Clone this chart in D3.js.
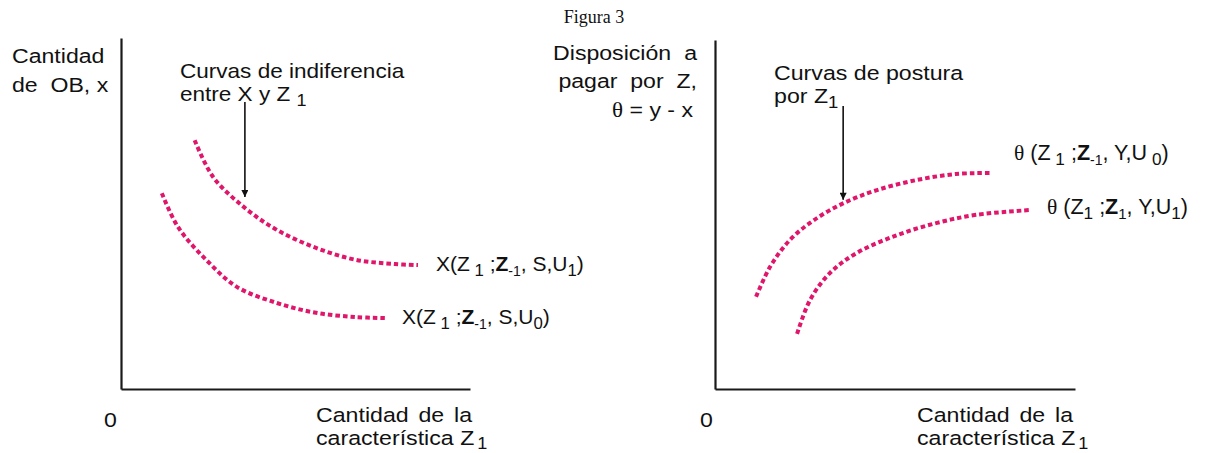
<!DOCTYPE html>
<html>
<head>
<meta charset="utf-8">
<script src="https://cdn.jsdelivr.net/npm/d3@7"></script>
<style>
  html, body { margin: 0; padding: 0; background: #fff; }
  svg text { font-family: "Liberation Sans", Arial, sans-serif; fill: #111; white-space: pre; }
</style>
</head>
<body>
<svg id="chart" width="1221" height="453"></svg>
<script>
// ---------- data (abstract units 0..10 on both axes) ----------
const titleText = "Figura 3";
const leftUpperX = [2.11, 2.64, 3.55, 4.47, 5.59, 6.73, 7.85, 8.51];
const leftUpperY = [7.09, 6.04, 5.16, 4.53, 4.02, 3.68, 3.56, 3.53];
const leftLowerX = [1.17, 1.63, 2.44, 3.32, 4.47, 5.59, 6.73, 7.56];
const leftLowerY = [5.58, 4.62, 3.68, 2.91, 2.45, 2.17, 2.05, 2.02];
const rightUpperX = [1.14, 1.53, 2.08, 2.75, 3.58, 4.50, 5.61, 6.69, 7.64];
const rightUpperY = [2.64, 3.50, 4.27, 4.84, 5.33, 5.70, 5.99, 6.16, 6.19];
const rightLowerX = [2.28, 2.64, 3.19, 3.94, 5.06, 6.17, 7.25, 8.78];
const rightLowerY = [1.58, 2.55, 3.32, 3.90, 4.41, 4.76, 4.99, 5.13];
const leftArrow = { x: 3.55, y0: 8.18, y1: 5.47 };
const rightArrow = { x: 3.56, y0: 8.11, y1: 5.42 };
const domainX = [0, 10];
const domainY = [0, 10];

// ---------- layout ----------
const svg = d3.select("#chart");
const curveColor = "#e0166b";
const FS = 21;
const SX = 1.1;

const panels = [
  { x: d3.scaleLinear().domain(domainX).range([121, 470]),
    y: d3.scaleLinear().domain(domainY).range([389, 38]) },
  { x: d3.scaleLinear().domain(domainX).range([715, 1075]),
    y: d3.scaleLinear().domain(domainY).range([389, 40]) }
];

svg.append("defs").append("marker")
  .attr("id", "arrowhead").attr("viewBox", "0 0 10 10")
  .attr("refX", 10).attr("refY", 5)
  .attr("markerWidth", 8).attr("markerHeight", 7)
  .attr("markerUnits", "userSpaceOnUse")
  .attr("orient", "auto")
  .append("path").attr("d", "M0,0 L10,5 L0,10 Z").attr("fill", "#111");

function drawAxes(p) {
  const gx = svg.append("g").attr("transform", `translate(0,${p.y(0)})`)
    .call(d3.axisBottom(p.x).tickValues([]).tickSizeOuter(0));
  const gy = svg.append("g").attr("transform", `translate(${p.x(0)},0)`)
    .call(d3.axisLeft(p.y).tickValues([]).tickSizeOuter(0));
  [gx, gy].forEach(g => g.select(".domain").attr("stroke", "#1a1a1a").attr("stroke-width", 2.2));
}

function drawCurve(p, xs, ys) {
  const pts = xs.map((v, i) => [v, ys[i]]);
  const line = d3.line().x(d => p.x(d[0])).y(d => p.y(d[1])).curve(d3.curveCatmullRom.alpha(0.5));
  svg.append("path").datum(pts).attr("d", line)
    .attr("fill", "none").attr("stroke", curveColor)
    .attr("stroke-width", 4).attr("stroke-dasharray", "4.5,3");
}

function drawArrow(p, a) {
  svg.append("line")
    .attr("x1", p.x(a.x)).attr("x2", p.x(a.x))
    .attr("y1", p.y(a.y0)).attr("y2", p.y(a.y1))
    .attr("stroke", "#111").attr("stroke-width", 1.6)
    .attr("marker-end", "url(#arrowhead)");
}

// multi-line rich text in one <text>: lines = [[ [text, opts], ... ], ...]
function rich(x, y, lines, size, anchor, extra) {
  extra = extra || {};
  const lh = extra.lh || 23;
  const sx = extra.sx || 1;
  const t = svg.append("text").attr("x", 0).attr("y", 0)
    .attr("transform", `translate(${x},${y}) scale(${sx},1)`)
    .attr("font-size", size).attr("text-anchor", anchor || "start");
  let shifted = 0;
  lines.forEach((parts, li) => {
    parts.forEach(([txt, o], pi) => {
      o = o || {};
      const want = o.sub ? (o.shift || 5) : 0;
      const ts = t.append("tspan").text(txt);
      if (li > 0 && pi === 0) {
        ts.attr("x", 0).attr("dy", lh + want - shifted);
      } else {
        ts.attr("dy", want - shifted);
      }
      shifted = want;
      if (o.sub) ts.attr("font-size", o.size || size * 0.8);
      if (o.dx) ts.attr("dx", o.dx);
      if (o.ws) ts.attr("word-spacing", o.ws);
      else if (extra.ws) ts.attr("word-spacing", extra.ws);
      if (o.bold) ts.attr("font-weight", "bold");
      if (o.serif) ts.attr("font-family", "'Liberation Serif', serif");
    });
  });
  return t;
}

// ---------- draw ----------
svg.append("text").attr("x", 594).attr("y", 23).attr("text-anchor", "middle")
  .attr("font-size", 18).style("font-family", "'Liberation Serif', serif").text(titleText);

panels.forEach(drawAxes);
drawCurve(panels[0], leftUpperX, leftUpperY);
drawCurve(panels[0], leftLowerX, leftLowerY);
drawCurve(panels[1], rightUpperX, rightUpperY);
drawCurve(panels[1], rightLowerX, rightLowerY);
drawArrow(panels[0], leftArrow);
drawArrow(panels[1], rightArrow);

// left panel texts
rich(12, 63, [[["Cantidad"]], [["de  OB, x"]]], FS, "start", {lh: 29, sx: SX});
rich(180, 78, [[["Curvas de indiferencia"]], [["entre X y Z "], ["1", {sub: true}]]], 20.5, "start", {lh: 23, sx: 1.1});
rich(436, 271, [[["X(Z"], [" 1", {sub: true}], [" ;"], ["Z", {bold: true}], ["-1", {sub: true, size: 14}], [", S,U"], ["1", {sub: true}], [")"]]], 21);
rich(402, 324, [[["X(Z"], [" 1", {sub: true}], [" ;"], ["Z", {bold: true}], ["-1", {sub: true, size: 14}], [", S,U"], ["0", {sub: true}], [")"]]], 21);
rich(104, 427, [[["0"]]], FS, "start", {sx: SX});
rich(316, 422, [[["Cantidad de la", {ws: 3}]], [["característica Z", {ws: 0.1}], ["1", {sub: true, shift: 4, size: 16, dx: 2.5}]]], 20.5, "start", {lh: 23, sx: 1.13});

// right panel texts
rich(697, 60, [[["Disposición a", {ws: 6}]]], FS, "end", {sx: SX});
rich(697, 88, [[["pagar  por  Z,"]]], FS, "end", {sx: SX});
rich(693, 117, [[["θ", {serif: true}], [" = y - x"]]], FS, "end", {sx: SX});
rich(774, 80, [[["Curvas de postura"]], [["por Z"], ["1", {sub: true}]]], 20.5, "start", {lh: 23, sx: 1.13});
rich(1014, 160, [[["θ", {serif: true}], [" (Z"], [" 1", {sub: true}], [" ;"], ["Z", {bold: true}], ["-1", {sub: true, size: 14}], [", Y,U"], [" 0", {sub: true}], [")"]]], 21.5);
rich(1047, 214, [[["θ", {serif: true}], [" (Z"], ["1", {sub: true}], [" ;"], ["Z", {bold: true}], ["1", {sub: true, size: 15}], [", Y,U"], ["1", {sub: true}], [")"]]], 21.5);
rich(700, 427, [[["0"]]], FS, "start", {sx: SX});
rich(917, 422, [[["Cantidad de la", {ws: 3}]], [["característica Z", {ws: 0.1}], ["1", {sub: true, shift: 4, size: 16, dx: 2.5}]]], 20.5, "start", {lh: 23, sx: 1.13});
</script>
</body>
</html>
